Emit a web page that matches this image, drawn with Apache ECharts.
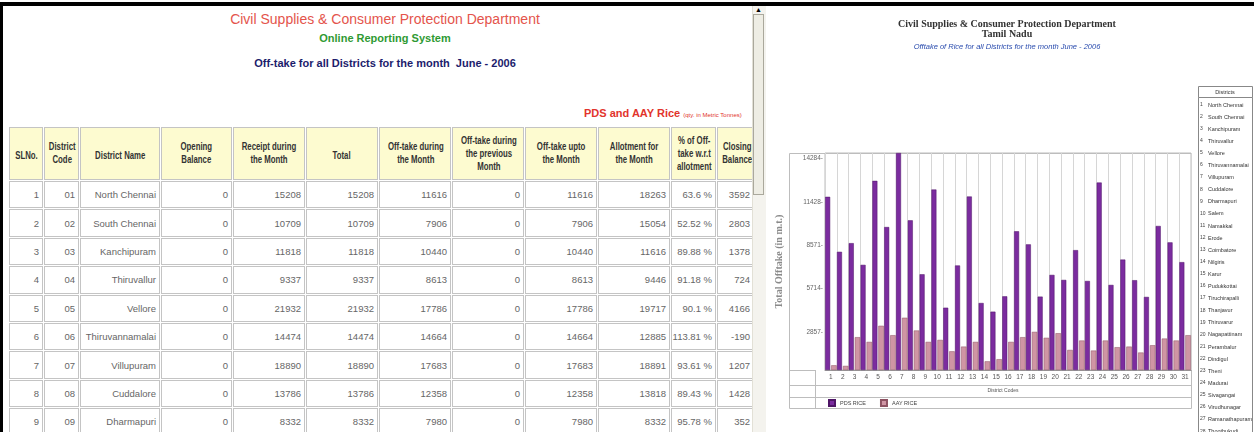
<!DOCTYPE html>
<html>
<head>
<meta charset="utf-8">
<title>Off-take for all Districts - June 2006</title>
<script src="https://cdn.jsdelivr.net/npm/echarts/dist/echarts.min.js"></script>
<style>
  body { margin:0; width:1254px; height:432px; overflow:hidden; background:#fff; position:relative;
         font-family: Arial, "Liberation Sans", sans-serif; }
  .frame-top { position:absolute; left:0; top:2px; width:1254px; height:4px; background:#000; z-index:5; }
  .frame-left { position:absolute; left:0; top:2px; width:3px; height:430px; background:#000; z-index:5; }
  .head { position:absolute; left:0; width:770px; text-align:center; white-space:nowrap; }
  .h1 { top:11px; font-size:14px; color:#e4544c; }
  .h2 { top:32px; font-size:11px; font-weight:bold; color:#2f9a33; }
  .h3 { top:57px; font-size:11px; font-weight:bold; color:#1c1c6c; }
  .unit { position:absolute; left:584px; top:107px; white-space:nowrap; color:#e2342c; font-weight:bold; font-size:11px; }
  .unit small { font-size:6px; font-weight:normal; }
  table.offtake { position:absolute; left:8px; top:126px; width:735px; table-layout:fixed;
                  border-collapse:separate; border-spacing:1px; }
  table.offtake td { border:1px solid #c4c4c4; box-sizing:border-box; padding:0 3px 0 0; white-space:nowrap; overflow:visible; }
  table.offtake tr.hd td { height:53px; background:#fdfbd0; text-align:center; padding:0; }
  table.offtake tr.hd td span { display:inline-block; transform:scaleX(0.78); transform-origin:center;
                  font:bold 10px/13px Arial, "Liberation Sans", sans-serif; color:#333; }
  table.offtake tr.row td { height:27.4px; text-align:right; font-size:9.5px; color:#666; }
  .scroll { position:absolute; left:752px; top:6px; width:13px; height:426px; background:#f4f3ee; border-left:1px solid #e2e0d6; }
  .thumb { position:absolute; left:753px; top:14px; width:11px; height:181px; background:#eeede4; border:1px solid #aaa89c; box-sizing:border-box; }
  .arrow { position:absolute; left:753px; top:6px; width:11px; height:8px; font-size:7px; line-height:8px; text-align:center; color:#000; }
  #chart { position:absolute; left:766px; top:0; width:488px; height:432px; }
</style>
</head>
<body>
<div class="frame-top"></div>
<div class="frame-left"></div>
<div class="head h1">Civil Supplies &amp; Consumer Protection Department</div>
<div class="head h2">Online Reporting System</div>
<div class="head h3">Off-take for all Districts for the month&nbsp; June - 2006</div>
<div class="unit">PDS and AAY Rice <small>(qty. in Metric Tonnes)</small></div>
<table class="offtake" id="tbl"></table>
<div class="scroll"></div>
<div class="thumb"></div>
<div class="arrow">&#9650;</div>
<div id="chart"></div>

<script>
// table (left side)
const headers = ['SLNo.', 'District<br>Code', 'District Name', 'Opening<br>Balance', 'Receipt during<br>the Month', 'Total',
  'Off-take during<br>the Month', 'Off-take during<br>the previous<br>Month', 'Off-take upto<br>the Month',
  'Allotment for<br>the Month', '% of Off-<br>take w.r.t<br>allotment', 'Closing<br>Balance']
const colWidths = [34, 35, 80, 71, 72, 72, 72, 72, 72, 72, 45, 37]

const tblCodes = ['01', '02', '03', '04', '05', '06', '07', '08', '09']
const tblNames = ['North Chennai', 'South Chennai', 'Kanchipuram', 'Thiruvallur', 'Vellore', 'Thiruvannamalai', 'Villupuram', 'Cuddalore', 'Dharmapuri']
const openingBal = [0, 0, 0, 0, 0, 0, 0, 0, 0]
const receipt = [15208, 10709, 11818, 9337, 21932, 14474, 18890, 13786, 8332]
const total = [15208, 10709, 11818, 9337, 21932, 14474, 18890, 13786, 8332]
const offtakeMonth = [11616, 7906, 10440, 8613, 17786, 14664, 17683, 12358, 7980]
const offtakePrev = [0, 0, 0, 0, 0, 0, 0, 0, 0]
const offtakeUpto = [11616, 7906, 10440, 8613, 17786, 14664, 17683, 12358, 7980]
const allotment = [18263, 15054, 11616, 9446, 19717, 12885, 18891, 13818, 8332]
const pctOfftake = ['63.6 %', '52.52 %', '89.88 %', '91.18 %', '90.1 %', '113.81 %', '93.61 %', '89.43 %', '95.78 %']
const closingBal = [3592, 2803, 1378, 724, 4166, -190, 1207, 1428, 352]

const tbl = document.getElementById('tbl')
let html = '<colgroup>' + colWidths.map(w => `<col style="width:${w}px">`).join('') + '</colgroup>'
html += '<tr class="hd">' + headers.map(h => `<td><span>${h}</span></td>`).join('') + '</tr>'
tblCodes.forEach((code, i) => {
  const cells = [i + 1, code, tblNames[i], openingBal[i], receipt[i], total[i], offtakeMonth[i],
    offtakePrev[i], offtakeUpto[i], allotment[i], pctOfftake[i], closingBal[i]]
  html += '<tr class="row">' + cells.map(c => `<td>${c}</td>`).join('') + '</tr>'
})
tbl.innerHTML = html

// chart (right side)
const districtCodes = ['1', '2', '3', '4', '5', '6', '7', '8', '9', '10', '11', '12', '13', '14', '15', '16',
  '17', '18', '19', '20', '21', '22', '23', '24', '25', '26', '27', '28', '29', '30', '31']
const pdsRice = [11400, 7780, 8350, 6920, 12450, 9410, 14284, 9850, 6300, 11880, 4100, 6880, 11420, 4410, 3840, 4850,
  9130, 8270, 4830, 6260, 5930, 7890, 5860, 12340, 5600, 7270, 5910, 4810, 9480, 8400, 7100]
const aayRice = [310, 270, 2160, 1850, 2910, 2290, 3440, 2600, 1850, 1980, 1230, 1540, 1850, 570, 710, 1850,
  2160, 2510, 2120, 2420, 1320, 1940, 1280, 1940, 1500, 1540, 1150, 1630, 2070, 1940, 2290]
const yTickLabels = ['', '2857', '5714', '8571', '11428', '14284']
const districtList = ['North Chennai', 'South Chennai', 'Kanchipuram', 'Thiruvallur', 'Vellore', 'Thiruvannamalai',
  'Villupuram', 'Cuddalore', 'Dharmapuri', 'Salem', 'Namakkal', 'Erode', 'Coimbatore', 'Nilgiris', 'Karur',
  'Pudukkottai', 'Tiruchirapalli', 'Thanjavur', 'Thiruvarur', 'Nagapattinam', 'Perambalur', 'Dindigul', 'Theni',
  'Madurai', 'Sivagangai', 'Virudhunagar', 'Ramanathapuram', 'Thoothukudi', 'Tirunelveli', 'Kanyakumari', 'Krishnagiri']

const tickStep = 14284 / 5
const chart = echarts.init(document.getElementById('chart'))

const frame = { stroke: '#bdbdbd', fill: null, lineWidth: 1 }
const graphic = [
  { type: 'text', x: 241, y: 19, style: { text: 'Civil Supplies & Consumer Protection Department', align: 'center',
    font: 'bold 10px "Liberation Serif", serif', fill: '#333' } },
  { type: 'text', x: 241, y: 29, style: { text: 'Tamil Nadu', align: 'center', font: 'bold 10px "Liberation Serif", serif', fill: '#333' } },
  { type: 'text', x: 241, y: 43, style: { text: 'Offtake of Rice for all Districts for the month June - 2006', align: 'center',
    font: 'italic 7.5px Arial, sans-serif', fill: '#2a4cae' } },
  { type: 'rect', shape: { x: 23.5, y: 153.5, width: 402, height: 255 }, style: frame, silent: true },
  { type: 'line', shape: { x1: 23, y1: 385.5, x2: 425, y2: 385.5 }, style: frame },
  { type: 'line', shape: { x1: 23, y1: 397.5, x2: 425, y2: 397.5 }, style: frame },
  { type: 'line', shape: { x1: 23, y1: 370.5, x2: 49, y2: 370.5 }, style: frame },
  { type: 'line', shape: { x1: 49.5, y1: 370, x2: 49.5, y2: 408 }, style: frame },
  { type: 'text', x: 237, y: 388, style: { text: 'District Codes', align: 'center', font: '5px Arial', fill: '#555' } },
  // district key on the right
  { type: 'rect', shape: { x: 432.5, y: 86.5, width: 54, height: 11 }, style: { stroke: '#888', fill: '#fff' } },
  { type: 'text', x: 459, y: 89, style: { text: 'Districts', align: 'center', font: '5.5px Arial', fill: '#333' } },
  { type: 'rect', shape: { x: 432.5, y: 97.5, width: 54, height: 345 }, style: { stroke: '#888', fill: '#fff' } }
]
districtList.forEach((name, i) => {
  graphic.push({ type: 'text', x: 434, y: 102 + i * 12.1, style: { text: String(i + 1), font: '5px Arial', fill: '#444' } })
  graphic.push({ type: 'text', x: 442, y: 102 + i * 12.1, style: { text: name, font: '5.5px Arial', fill: '#333' } })
})

chart.setOption({
  animation: false,
  grid: { left: 49, right: 63, top: 153, bottom: 62, show: true, borderColor: '#bdbdbd', borderWidth: 1 },
  legend: {
    left: 62, top: 399, padding: 0, itemWidth: 6, itemHeight: 6, itemGap: 14, icon: 'rect',
    textStyle: { fontSize: 5.5, color: '#444' }
  },
  xAxis: {
    type: 'category',
    data: districtCodes,
    axisLine: { lineStyle: { color: '#999' } },
    axisTick: { show: false },
    axisLabel: { interval: 0, fontSize: 6.5, color: '#555', margin: 4 },
    splitLine: { show: true, lineStyle: { color: '#d6d6d6' } }
  },
  yAxis: {
    type: 'value',
    min: 0,
    max: 14284,
    interval: tickStep,
    name: 'Total Offtake (in m.t.)',
    nameLocation: 'middle',
    nameGap: 41,
    nameTextStyle: { fontFamily: '"Liberation Serif", serif', fontWeight: 'bold', fontSize: 10, color: '#8a8a8a' },
    axisLine: { show: false },
    axisTick: { show: false },
    splitLine: { show: false },
    axisLabel: {
      showMaxLabel: true,
      margin: 2,
      fontSize: 6.5,
      color: '#666',
      verticalAlign: 'top',
      padding: [2, 0, 0, 0],
      formatter: v => {
        const t = yTickLabels[Math.round(v / tickStep)]
        return t ? t + '-' : ''
      }
    }
  },
  series: [
    { name: 'PDS RICE', type: 'bar', data: pdsRice, barWidth: 5, barGap: '20%',
      itemStyle: { color: '#7b2c9f', borderColor: '#4e1566', borderWidth: 0.5 } },
    { name: 'AAY RICE', type: 'bar', data: aayRice, barWidth: 5.5,
      itemStyle: { color: '#cf95a4', borderColor: '#8d5262', borderWidth: 0.5 } }
  ],
  graphic: graphic
})
</script>
</body>
</html>
